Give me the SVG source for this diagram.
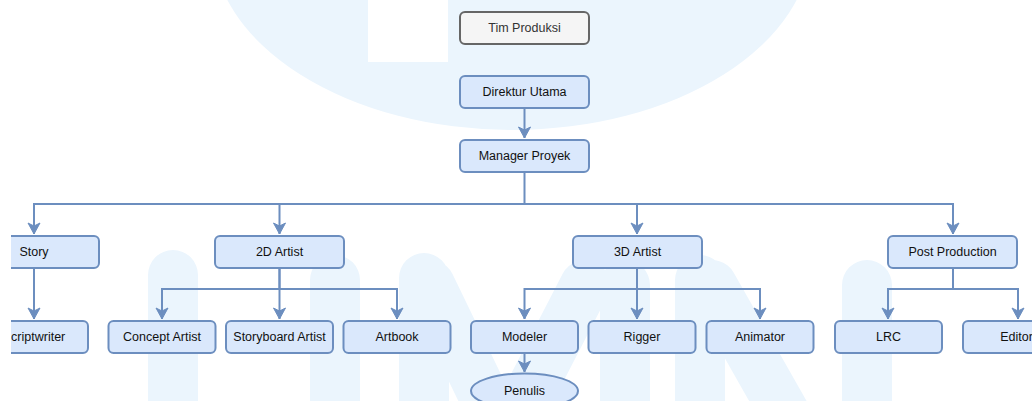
<svg xmlns="http://www.w3.org/2000/svg" width="1032" height="401" viewBox="0 0 1032 401">
  <style>
    .box { fill: #dae8fc; stroke: #6c8ebf; stroke-width: 2; }
    .gray { fill: #f5f5f5; stroke: #666666; stroke-width: 2; }
    .lbl { font-family: "Liberation Sans", Arial, Helvetica, sans-serif; font-size: 12.5px; fill: #111111; text-anchor: middle; dominant-baseline: central; }
    .lblg { fill: #333333; }
    .edge { fill: none; stroke: #6c8ebf; stroke-width: 2; }
    .wm { fill: #ebf5fd; }
    .wms { fill: none; stroke: #ebf5fd; stroke-width: 50; stroke-linecap: round; }
  </style>
  <defs>
    <marker id="arr" markerUnits="userSpaceOnUse" markerWidth="14" markerHeight="14" viewBox="-12 -7 14 14" refX="0" refY="0" orient="auto">
      <path d="M0,0 L-11,-6 L-8,0 L-11,6 Z" fill="#6c8ebf" stroke="#6c8ebf" stroke-width="1"/>
    </marker>
    <clipPath id="cl"><rect x="11" y="0" width="1021" height="401"/></clipPath>
  </defs>
  <rect width="1032" height="401" fill="#ffffff"/>
  <g id="watermark">
    <ellipse class="wm" cx="512" cy="-60" rx="300" ry="190"/>
    <rect x="368" y="0" width="80" height="62" fill="#ffffff"/>
    <path class="wms" d="M173,275 V440 M335,280 V440"/>
    <path class="wms" d="M424,278 V440 M430,285 L505,440 M505,440 L585,285 M625,285 V440"/>
    <path class="wms" d="M700,280 V440 M712,285 L800,440 M867,285 V440"/>
  </g>
  <g clip-path="url(#cl)">
    <g id="connectors">
      <path class="edge" d="M524.5,108 V138" marker-end="url(#arr)"/>
      <path class="edge" d="M524.5,172 V204 H34 V234" marker-end="url(#arr)"/>
      <path class="edge" d="M524.5,204 H279.5 V234" marker-end="url(#arr)"/>
      <path class="edge" d="M524.5,204 H637 V234" marker-end="url(#arr)"/>
      <path class="edge" d="M524.5,204 H953 V234" marker-end="url(#arr)"/>
      <path class="edge" d="M34,268 V319" marker-end="url(#arr)"/>
      <path class="edge" d="M279.5,268 V289 H162 V319" marker-end="url(#arr)"/>
      <path class="edge" d="M279.5,268 V319" marker-end="url(#arr)"/>
      <path class="edge" d="M279.5,289 H397 V319" marker-end="url(#arr)"/>
      <path class="edge" d="M637,268 V289 H524.5 V319" marker-end="url(#arr)"/>
      <path class="edge" d="M637,268 V319" marker-end="url(#arr)"/>
      <path class="edge" d="M637,289 H760 V319" marker-end="url(#arr)"/>
      <path class="edge" d="M953,268 V289 H888 V319" marker-end="url(#arr)"/>
      <path class="edge" d="M953,289 H1018 V319" marker-end="url(#arr)"/>
      <path class="edge" d="M524.5,353.5 V372" marker-end="url(#arr)"/>
    </g>
    <g id="tim-produksi"><rect class="gray" x="460" y="12" width="129" height="32" rx="5"/><text class="lbl lblg" x="524.5" y="28">Tim Produksi</text></g>
    <g id="direktur-utama"><rect class="box" x="460" y="76" width="129" height="32" rx="5"/><text class="lbl" x="524.5" y="92">Direktur Utama</text></g>
    <g id="manager-proyek"><rect class="box" x="460" y="140" width="129" height="32" rx="5"/><text class="lbl" x="524.5" y="156">Manager Proyek</text></g>
    <g id="story"><rect class="box" x="-30" y="236" width="129" height="32" rx="5"/><text class="lbl" x="34" y="252">Story</text></g>
    <g id="artist-2d"><rect class="box" x="215" y="236" width="129" height="32" rx="5"/><text class="lbl" x="279.5" y="252">2D Artist</text></g>
    <g id="artist-3d"><rect class="box" x="573" y="236" width="129" height="32" rx="5"/><text class="lbl" x="637.5" y="252">3D Artist</text></g>
    <g id="post-production"><rect class="box" x="888" y="236" width="129" height="32" rx="5"/><text class="lbl" x="952.5" y="252">Post Production</text></g>
    <g id="scriptwriter"><rect class="box" x="-20" y="321" width="108" height="32" rx="5"/><text class="lbl" x="34" y="337">Scriptwriter</text></g>
    <g id="concept-artist"><rect class="box" x="108.5" y="321" width="107" height="32" rx="5"/><text class="lbl" x="162" y="337">Concept Artist</text></g>
    <g id="storyboard-artist"><rect class="box" x="226" y="321" width="107" height="32" rx="5"/><text class="lbl" x="279.5" y="337">Storyboard Artist</text></g>
    <g id="artbook"><rect class="box" x="343.5" y="321" width="107" height="32" rx="5"/><text class="lbl" x="397" y="337">Artbook</text></g>
    <g id="modeler"><rect class="box" x="471" y="321" width="107" height="32" rx="5"/><text class="lbl" x="524.5" y="337">Modeler</text></g>
    <g id="rigger"><rect class="box" x="588.5" y="321" width="107" height="32" rx="5"/><text class="lbl" x="642" y="337">Rigger</text></g>
    <g id="animator"><rect class="box" x="706.5" y="321" width="107" height="32" rx="5"/><text class="lbl" x="760" y="337">Animator</text></g>
    <g id="lrc"><rect class="box" x="835" y="321" width="107" height="32" rx="5"/><text class="lbl" x="888.5" y="337">LRC</text></g>
    <g id="editor"><rect class="box" x="963" y="321" width="107" height="32" rx="5"/><text class="lbl" x="1016.5" y="337">Editor</text></g>
    <g id="penulis"><ellipse class="box" cx="524.5" cy="391" rx="53.5" ry="17.5"/><text class="lbl" x="524.5" y="391">Penulis</text></g>
  </g>
</svg>
